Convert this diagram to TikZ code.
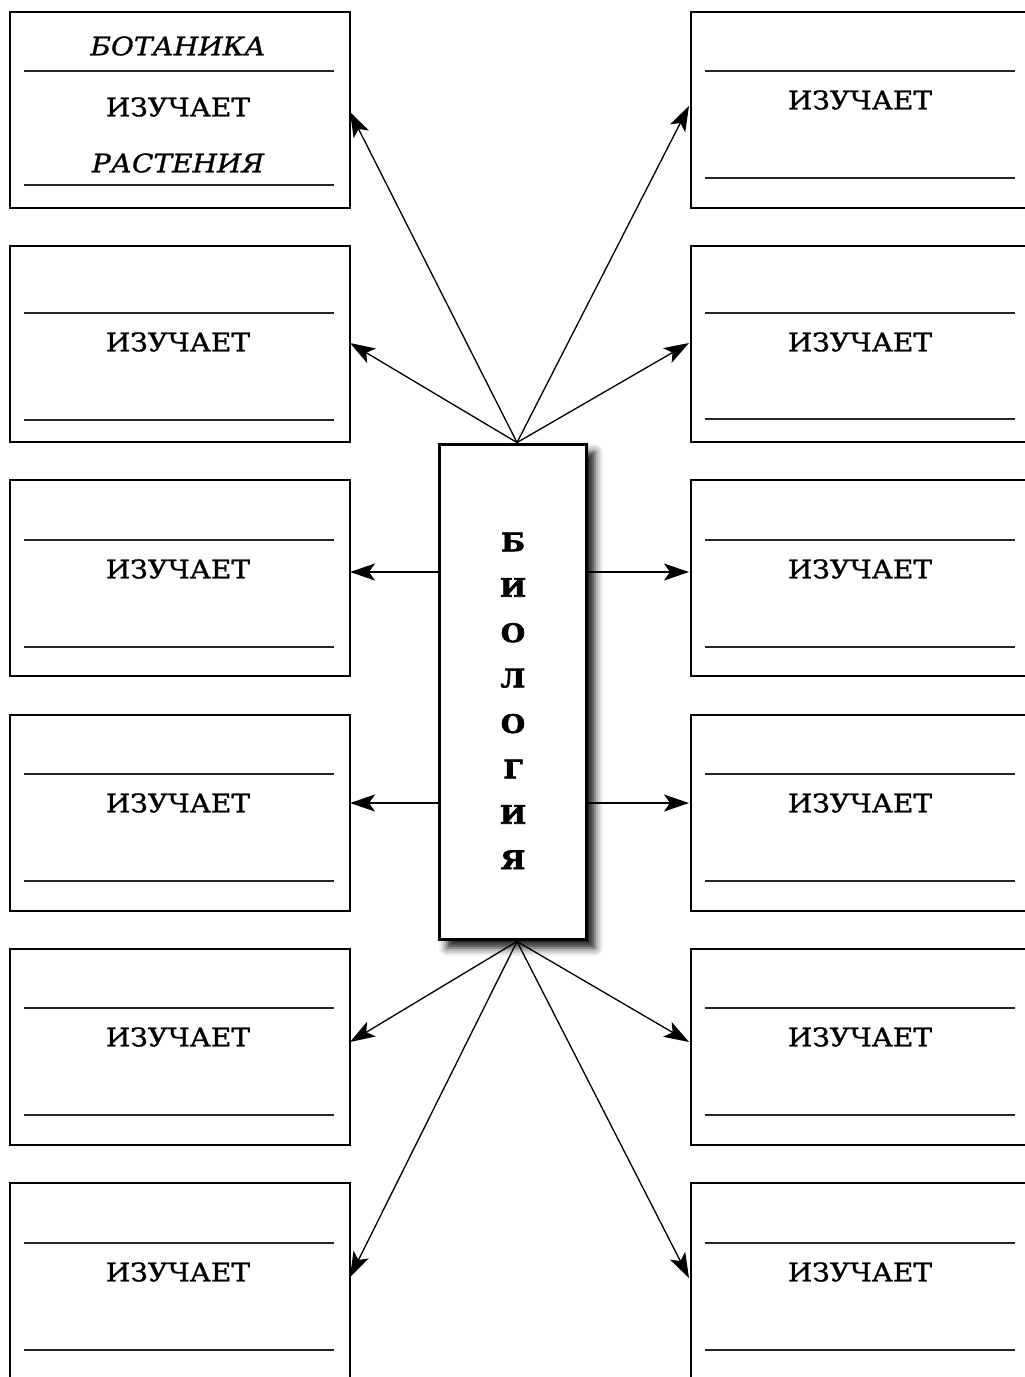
\documentclass[tikz,border=0pt]{standalone}
\usepackage{fontspec}
\setmainfont{DejaVu Serif}[FakeStretch=1.1, FakeBold=1.2, BoldFeatures={FakeBold=2.5}]
\usetikzlibrary{arrows.meta,shadows.blur}

\tikzset{
  fieldbox/.style={draw, line width=1.1pt, minimum width=6.8cm, minimum height=3.92cm,
    anchor=north west, inner sep=0pt},
  rule/.style={line width=0.75pt, black!85},
  word/.style={font=\fontsize{14.5}{17}\selectfont, inner sep=0pt},
  letter/.style={font=\fontsize{14.5}{17}\selectfont\bfseries, inner sep=0pt},
  link/.style={line width=0.75pt, -{Stealth[length=5mm, width=3.4mm, inset=1.2mm]}},
  biobox/.style={draw, line width=1.7pt, fill=white, minimum width=2.96cm,
    minimum height=9.92cm, inner sep=0pt,
    blur shadow={shadow xshift=0.16cm, shadow yshift=-0.16cm,
      shadow blur radius=0.16cm, shadow opacity=90}}
}

\begin{document}
\begin{tikzpicture}[x=0.02cm, y=-0.02cm]
  \useasboundingbox (0,0) rectangle (1025,1377);
  \clip (0,0) rectangle (1025,1377);
  % Left-hand boxes
  \node[fieldbox] (L1) at (9,11) {};
  \draw[rule] (24,71) -- (334,71);
  \draw[rule] (24,185) -- (334,185);
  \node[word] (botanika) at (178,46) {\itshape БОТАНИКА};
  \node[word] (izL1) at (178,107) {ИЗУЧАЕТ};
  \node[word] (rastenia) at (178,163) {\itshape РАСТЕНИЯ};
  \foreach \i/\yt/\la/\lb in {2/245/68/175, 3/479/61/168, 4/714/60/167,
                              5/948/60/167, 6/1182/61/168}{
    \node[fieldbox] (L\i) at (9,\yt) {};
    \draw[rule] (24,\yt+\la) -- (334,\yt+\la);
    \draw[rule] (24,\yt+\lb) -- (334,\yt+\lb);
    \node[word] (izL\i) at (178,\yt+\la+29) {ИЗУЧАЕТ};
  }
  % Right-hand boxes
  \foreach \i/\yt/\la/\lb in {1/11/60/167, 2/245/68/174, 3/479/61/168,
                              4/714/60/167, 5/948/60/167, 6/1182/61/168}{
    \node[fieldbox] (R\i) at (690,\yt) {};
    \draw[rule] (705,\yt+\la) -- (1015,\yt+\la);
    \draw[rule] (705,\yt+\lb) -- (1015,\yt+\lb);
    \node[word] (izR\i) at (860,\yt+\la+29) {ИЗУЧАЕТ};
  }
  % Centre box
  \node[biobox] (bio) at (513,692) {};
  \foreach \ch [count=\k] in {Б,И,О,Л,О,Г,И,Я}
    \node[letter] (b\k) at (513,{542+45.4*(\k-1)}) {\ch};
  % Arrow tips
  \coordinate (tL1) at (350,112);
  \coordinate (tL2) at (350,343);
  \coordinate (tL3) at (350,572);
  \coordinate (tL4) at (350,803);
  \coordinate (tL5) at (350,1042);
  \coordinate (tL6) at (350,1277);
  \coordinate (tR1) at (689,106);
  \coordinate (tR2) at (689,343);
  \coordinate (tR3) at (689,572);
  \coordinate (tR4) at (689,803);
  \coordinate (tR5) at (689,1042);
  \coordinate (tR6) at (689,1278);
  \coordinate (apexT) at ([xshift=0.08cm]bio.north);
  \coordinate (apexB) at ([xshift=0.08cm]bio.south);
  % Arrows
  \foreach \t in {L1,L2,R1,R2}
    \draw[link] (apexT) -- (t\t);
  \foreach \t in {L5,L6,R5,R6}
    \draw[link] (apexB) -- (t\t);
  \foreach \t in {L3,L4}
    \draw[link] (bio.west |- t\t) -- (t\t);
  \foreach \t in {R3,R4}
    \draw[link] (bio.east |- t\t) -- (t\t);
\end{tikzpicture}
\end{document}
